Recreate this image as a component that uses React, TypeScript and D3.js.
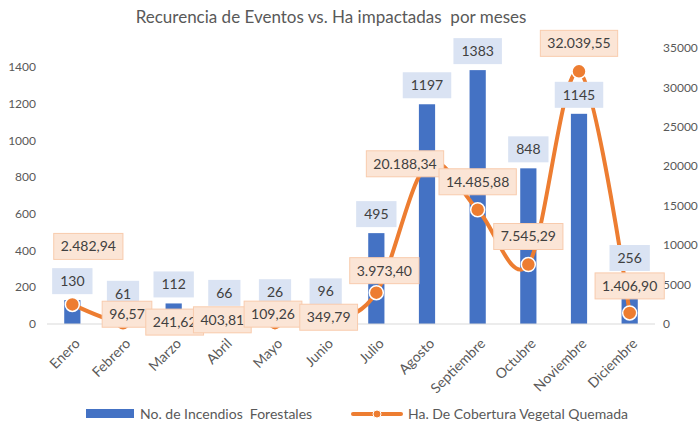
import React from "react";
import * as d3 from "d3";

const months = ["Enero", "Febrero", "Marzo", "Abril", "Mayo", "Junio", "Julio", "Agosto", "Septiembre", "Octubre", "Noviembre", "Diciembre"];
const incendios = [130, 61, 112, 66, 26, 96, 495, 1197, 1383, 848, 1145, 256];
const hectareas = [2482.94, 96.57, 241.62, 403.81, 109.26, 349.79, 3973.4, 20188.34, 14485.88, 7545.29, 32039.55, 1406.9];
const leftTicks = [0, 200, 400, 600, 800, 1000, 1200, 1400];
const rightTicks = [0, 5000, 10000, 15000, 20000, 25000, 30000, 35000];
const title = "Recurencia de Eventos vs. Ha impactadas  por meses";
const seriesNames = ["No. de Incendios  Forestales", "Ha. De Cobertura Vegetal Quemada"];

// layout: label nudges (dx, dy) from default "above" position for the line labels
const haNudgeX = [16, 4, 1, -2, -2, 3, 8, -22, 0, 0, 0, 0];
const haNudgeY = [-30, 19, 28, 27, 19, 24, 6, 27, 0, 0, 0, 1];
const barNudgeY = [0, 0, 0, 0, -8, 4, 0, 0, 0, 0, 0, 0];

const W = 700, H = 422;
const plotL = 47, plotR = 655, base = 324;
const BLUE = "#4472C4", ORANGE = "#ED7D31";
const FONT = "Lato, 'Noto Sans', sans-serif";

const esLocale = d3.formatLocale({ decimal: ",", thousands: ".", grouping: [3], currency: ["", ""] });
const fmtHa = esLocale.format(",.2f");

let ctx: CanvasRenderingContext2D | null = null;
function textW(s: string, font: string) {
  if (!ctx) ctx = document.createElement("canvas").getContext("2d");
  if (!ctx) return s.length * 8;
  ctx.font = font;
  return ctx.measureText(s).width;
}

export default function App() {
  const x = d3.scaleBand<string>().domain(months).range([plotL, plotR]).paddingInner(0.68).paddingOuter(0.34);
  const cx = (m: string) => (x(m) as number) + x.bandwidth() / 2;
  const yL = d3.scaleLinear().domain([0, 1400]).range([base, 67]);
  const yR = d3.scaleLinear().domain([0, 35000]).range([base, 48]);

  const pts: [number, number][] = months.map((m, i) => [cx(m), yR(hectareas[i])]);
  const line = d3.line().curve(d3.curveCardinal.tension(0))(pts) || "";

  const labelFont = `14px ${FONT}`;
  const boxH = 26;

  return (
    <svg width={W} height={H} style={{ position: "absolute", left: 0, top: 0, background: "#fff" }} fontFamily={FONT}>
      <rect width={W} height={H} fill="#fff" />
      <text x={331} y={23} textAnchor="middle" fontSize={17} fill="#595959" style={{ whiteSpace: "pre" }}>{title}</text>

      {leftTicks.map((t) => (
        <text key={"l" + t} x={36} y={yL(t)} dy="0.35em" textAnchor="end" fontSize={12} fill="#595959">{t}</text>
      ))}
      {rightTicks.map((t) => (
        <text key={"r" + t} x={663} y={yR(t)} dy="0.35em" textAnchor="start" fontSize={12} fill="#595959">{t}</text>
      ))}

      {months.map((m, i) => (
        <rect key={"b" + m} x={x(m)} y={yL(incendios[i])} width={x.bandwidth()} height={base - yL(incendios[i])} fill={BLUE} />
      ))}
      <line x1={plotL} x2={plotR} y1={base} y2={base} stroke="#D9D9D9" strokeWidth={1} />

      <path d={line} fill="none" stroke={ORANGE} strokeWidth={4} strokeLinejoin="round" strokeLinecap="round" />
      {pts.map((p, i) => (
        <circle key={"c" + i} cx={p[0]} cy={p[1]} r={7} fill={ORANGE} stroke="#fff" strokeWidth={1.5} />
      ))}

      {months.map((m, i) => {
        const s = String(incendios[i]);
        const w = textW(s, labelFont) + 16;
        const c = cx(m);
        const bottom = yL(incendios[i]) - 6 + barNudgeY[i];
        return (
          <g key={"bl" + m}>
            <rect x={c - w / 2} y={bottom - boxH} width={w} height={boxH} fill="#DAE3F3" />
            <text x={c} y={bottom - boxH / 2} dy="0.35em" textAnchor="middle" fontSize={14} fill="#404040">{s}</text>
          </g>
        );
      })}

      {months.map((m, i) => {
        const s = fmtHa(hectareas[i]);
        const w = textW(s, labelFont) + 14;
        const c = pts[i][0] + haNudgeX[i];
        const cy = pts[i][1] - 28 + haNudgeY[i];
        return (
          <g key={"ol" + m}>
            <rect x={c - w / 2} y={cy - boxH / 2} width={w} height={boxH} fill="#FBE5D6" stroke="#F8CBAD" strokeWidth={1} />
            <text x={c} y={cy} dy="0.35em" textAnchor="middle" fontSize={14} fill="#404040">{s}</text>
          </g>
        );
      })}

      {months.map((m) => (
        <text key={"x" + m} transform={`translate(${cx(m) + 5},${base + 17}) rotate(-45)`} dy="0.35em" textAnchor="end" fontSize={14} fill="#595959">{m}</text>
      ))}

      <rect x={86} y={409} width={48} height={9} fill={BLUE} />
      <text x={140} y={414} dy="0.35em" fontSize={14} fill="#595959" style={{ whiteSpace: "pre" }}>{seriesNames[0]}</text>
      <line x1={353} x2={401} y1={414} y2={414} stroke={ORANGE} strokeWidth={4} strokeLinecap="round" />
      <circle cx={377} cy={414} r={4} fill={ORANGE} stroke="#fff" strokeWidth={1} />
      <text x={408} y={414} dy="0.35em" fontSize={14} fill="#595959">{seriesNames[1]}</text>
    </svg>
  );
}
